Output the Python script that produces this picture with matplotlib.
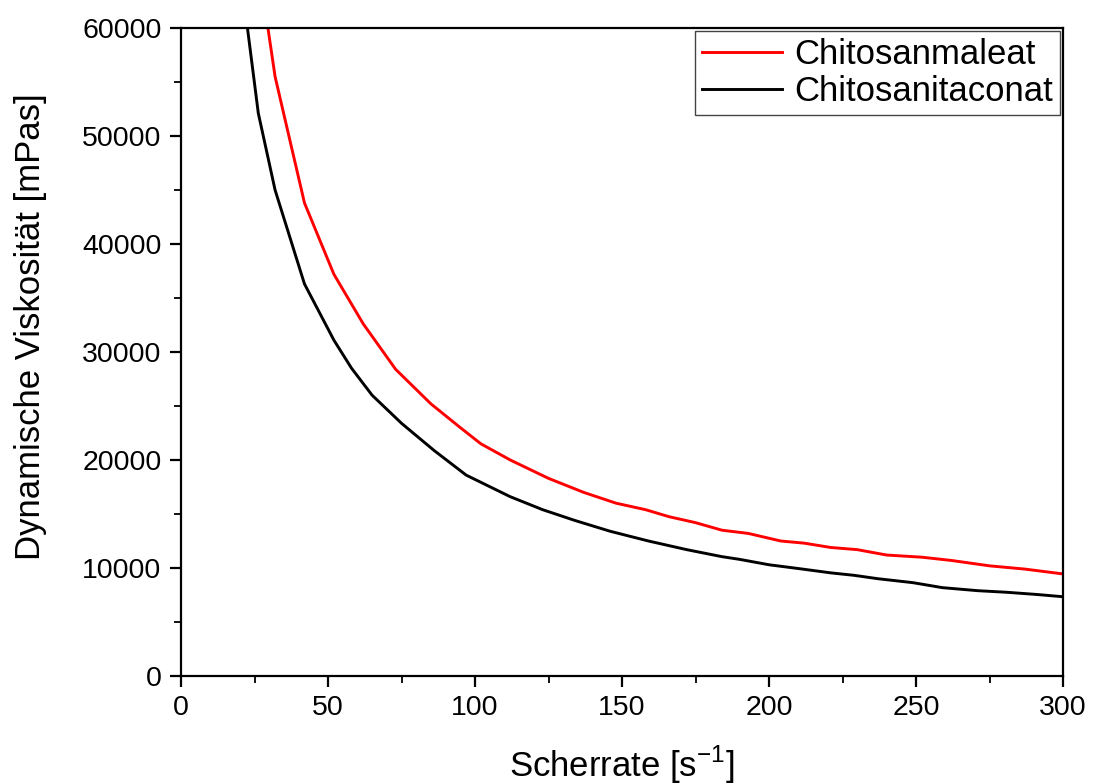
import matplotlib
matplotlib.use("Agg")
import matplotlib.pyplot as plt
from matplotlib.ticker import MultipleLocator

plt.rcParams['font.family'] = ['Liberation Sans', 'DejaVu Sans']
plt.rcParams['mathtext.fontset'] = 'custom'
plt.rcParams['mathtext.rm'] = 'Liberation Sans'

red_label = "Chitosanmaleat"
black_label = "Chitosanitaconat"

red_x = [22, 32, 42, 52, 62, 73, 85, 95, 102, 112, 125, 137, 148, 158, 166, 175,
         184, 193, 204, 212, 221, 230, 240, 252, 262, 275, 287, 300]
red_y = [74000, 55500, 43800, 37200, 32600, 28400, 25200, 23000, 21500, 20000, 18300,
         17000, 16000, 15400, 14750, 14200, 13500, 13200, 12500, 12300, 11900, 11700,
         11200, 11000, 10700, 10200, 9900, 9450]

black_x = [18, 22.6, 26.3, 32, 42, 52, 58, 65, 75, 86, 97, 112, 123, 134, 146, 159,
           172, 184, 190, 200, 210, 221, 229, 237, 249, 259, 271, 281, 291, 300]
black_y = [71500, 60000, 52100, 45000, 36300, 31100, 28500, 26000, 23400, 20900, 18600,
           16600, 15400, 14400, 13400, 12500, 11700, 11050, 10800, 10300, 9950, 9550,
           9320, 9010, 8640, 8180, 7900, 7750, 7550, 7340]

fig = plt.figure(figsize=(10.94, 7.84), dpi=100)
ax = fig.add_axes([181/1094, 1-676/784, (1063-181)/1094, (676-28)/784])

ax.plot(red_x, red_y, color='#ff0000', lw=2.1, label=red_label)
ax.plot(black_x, black_y, color='black', lw=2.1, label=black_label)

ax.set_xlim(0, 300)
ax.set_ylim(0, 60000)
ax.xaxis.set_major_locator(MultipleLocator(50))
ax.xaxis.set_minor_locator(MultipleLocator(25))
ax.yaxis.set_major_locator(MultipleLocator(10000))
ax.yaxis.set_minor_locator(MultipleLocator(5000))

for s in ax.spines.values():
    s.set_linewidth(1.6)
ax.tick_params(which='major', direction='out', length=8, width=1.6, labelsize=20.5, pad=6)
ax.tick_params(which='minor', direction='out', length=5, width=1.3)
ax.tick_params(top=False, right=False, which='both')

ax.set_xlabel("Scherrate [s$^{-1}$]", fontsize=25, labelpad=16)
ax.set_ylabel("Dynamische Viskosität [mPas]", fontsize=25)
ax.yaxis.set_label_coords(-0.152, 0.539)

leg = ax.legend(loc='upper right', bbox_to_anchor=(1.0, 1.0), fontsize=25,
                frameon=True, fancybox=False, edgecolor='#444444', framealpha=1,
                borderaxespad=0.1, handlelength=2.3, handletextpad=0.35,
                borderpad=0.2, labelspacing=0.1)
leg.get_frame().set_linewidth(1.0)

fig.savefig("out.png", dpi=100)
